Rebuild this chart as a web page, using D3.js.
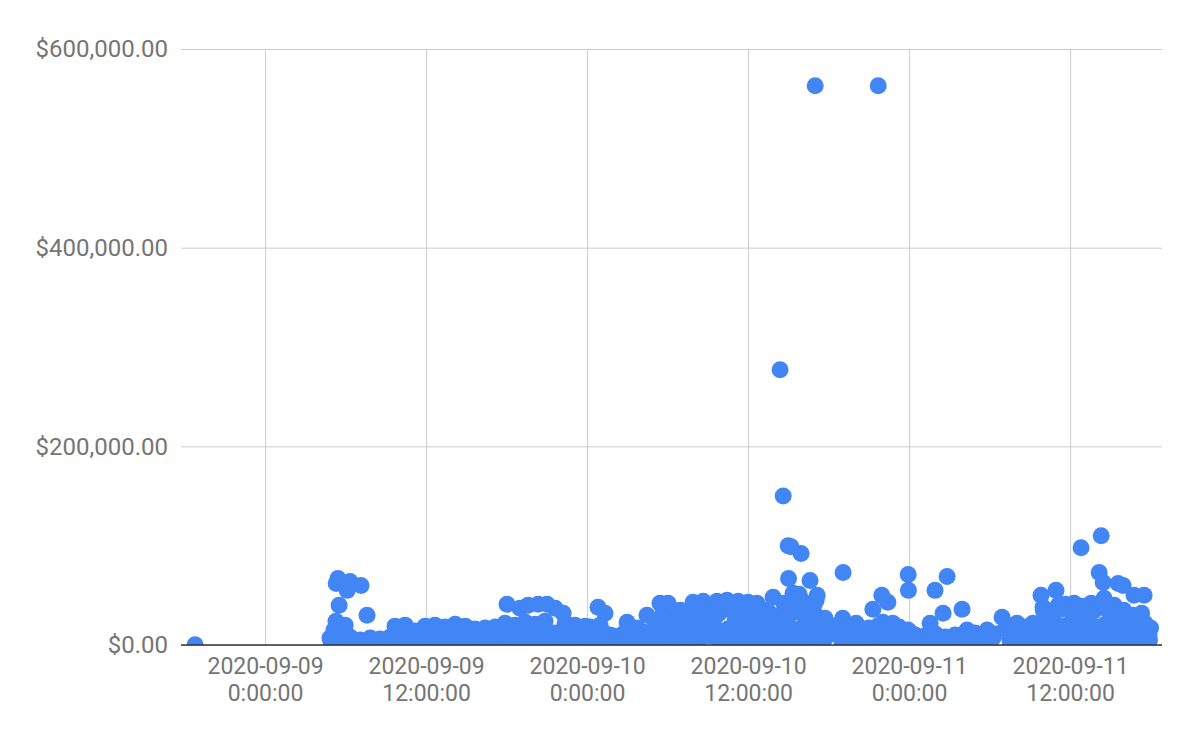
<!DOCTYPE html>
<head>
  <meta charset="utf-8">
  <title>Sales scatter</title>
  <script src="https://cdn.jsdelivr.net/npm/d3@7"></script>
  <style>
    body { margin: 0; background: #fff; }
    text { font-family: Roboto, "Noto Sans", sans-serif; }
  </style>
</head>
<body>
<div id="container"></div>
<script>

  // [time of day, amount] per day
  let sep08 = [["18:47", 300]];

  let sep09 = [
    ["05:18", 62000], ["05:26", 67000], ["06:20", 64000], ["06:07", 55000], ["07:09", 60000],
    ["05:31", 40000], ["07:36", 30000], ["05:17", 24000], ["05:08", 15000], ["05:58", 20000],
    ["05:22", 13000], ["05:20", 4000], ["04:55", 3000],
    ["04:50", 7000], ["05:35", 6000], ["06:20", 8000], ["07:05", 5000], ["07:50", 7000], ["08:34", 6000], ["09:19", 8000],
    ["05:13", 2000], ["05:58", 1500], ["06:42", 3000], ["07:27", 1000], ["08:12", 2500], ["08:57", 1800],
    ["04:58", 5000], ["05:40", 4000], ["06:30", 6000], ["07:15", 3000], ["08:00", 5000], ["08:45", 4000], ["09:30", 6000],
    ["09:41", 19000], ["10:26", 20000], ["11:11", 14000], ["11:56", 19000], ["12:40", 20000], ["13:25", 18000],
    ["14:10", 21000], ["14:55", 19000], ["15:39", 16000], ["16:24", 17000], ["17:09", 18000],
    ["09:50", 12000], ["10:35", 11000], ["11:20", 13000], ["12:05", 12000], ["12:50", 10000], ["13:35", 13000],
    ["14:20", 12000], ["15:05", 11000], ["15:50", 12000], ["16:35", 13000], ["17:20", 12000],
    ["10:04", 5000], ["10:49", 3000], ["11:33", 6000], ["12:18", 4000], ["13:03", 7000], ["13:47", 2000],
    ["14:32", 5000], ["15:17", 6000], ["16:01", 3000], ["16:46", 8000], ["17:31", 4000],
    ["18:02", 41000], ["19:00", 37000], ["19:36", 40000], ["20:21", 41000], ["21:01", 41000], ["21:37", 37000], ["22:13", 32000],
    ["17:53", 22000], ["18:38", 20000], ["19:23", 23000], ["20:07", 21000], ["20:52", 24000], ["21:40", 12000],
    ["22:22", 22000], ["23:06", 20000], ["23:51", 19000],
    ["17:40", 12000], ["18:25", 13000], ["19:10", 11000], ["19:55", 12000], ["20:40", 13000], ["21:25", 10000],
    ["22:10", 12000], ["22:55", 11000], ["23:40", 12000],
    ["18:16", 4000], ["19:02", 6000], ["19:45", 3000], ["20:30", 5000], ["21:14", 7000], ["21:59", 2000], ["22:44", 6000], ["23:29", 4000]
  ];

  let sep10 = [
    ["00:49", 38000], ["01:20", 32000],
    ["00:13", 18000], ["00:58", 20000], ["01:43", 10000], ["02:28", 8000], ["02:59", 23000], ["03:44", 17000], ["03:12", 10000], ["04:28", 30000],
    ["00:25", 12000], ["01:10", 13000], ["01:55", 9000], ["02:40", 11000], ["03:25", 12000], ["04:10", 13000], ["04:55", 12000],
    ["00:36", 4000], ["01:22", 6000], ["02:05", 3000], ["02:50", 5000], ["03:35", 2000], ["04:19", 6000], ["05:04", 4000],
    ["05:26", 42000], ["06:02", 42000], ["06:56", 35000], ["07:54", 43000], ["08:39", 44000], ["09:41", 44000],
    ["10:26", 45000], ["11:16", 44000], ["12:00", 43000], ["12:40", 42000],
    ["05:40", 33000], ["06:25", 35000], ["07:10", 34000], ["08:15", 33000], ["09:05", 36000], ["09:50", 32000],
    ["10:45", 35000], ["11:35", 34000], ["12:20", 33000], ["13:05", 32000], ["13:50", 30000],
    ["05:04", 24000], ["05:49", 26000], ["06:33", 22000], ["07:18", 27000], ["08:03", 20000], ["08:48", 23000], ["09:32", 28000],
    ["10:17", 14000], ["11:02", 25000], ["11:47", 22000], ["12:31", 26000], ["13:16", 27000], ["14:01", 24000],
    ["05:15", 15000], ["06:00", 14000], ["06:45", 16000], ["07:30", 15000], ["08:15", 13000], ["09:00", 15000], ["09:45", 14000],
    ["10:30", 16000], ["11:15", 15000], ["12:00", 14000], ["12:45", 16000], ["13:30", 15000], ["14:15", 14000],
    ["05:28", 7000], ["06:11", 5000], ["06:58", 8000], ["07:40", 4000], ["08:25", 6000], ["09:10", 9000], ["09:55", 3000],
    ["10:40", 7000], ["11:24", 5000], ["12:09", 8000], ["12:53", 6000], ["13:38", 4000], ["14:23", 7000],
    ["14:23", 277000], ["14:37", 150000], ["14:59", 100000], ["15:12", 99000], ["15:57", 92000], ["17:00", 563000], ["21:42", 563000],
    ["15:01", 67000], ["16:37", 65000], ["19:05", 73000], ["17:09", 50000], ["17:04", 45000], ["13:52", 48000], ["15:21", 52000],
    ["15:53", 38000], ["16:40", 38000], ["13:25", 35000], ["15:48", 51000],
    ["14:40", 42000], ["15:25", 40000], ["16:10", 43000], ["16:55", 41000],
    ["14:46", 30000], ["15:30", 33000], ["16:15", 28000], ["16:59", 31000], ["17:44", 27000],
    ["15:08", 18000], ["15:55", 16000], ["16:35", 19000], ["17:22", 17000], ["18:07", 15000],
    ["14:55", 11000], ["15:40", 10000], ["16:25", 12000], ["17:10", 11000], ["17:55", 10000],
    ["14:48", 4000], ["15:32", 6000], ["16:17", 3000], ["17:01", 5000], ["17:46", 7000],
    ["19:03", 27000], ["20:03", 22000], ["21:18", 36000], ["21:58", 50000], ["22:25", 43000], ["22:03", 23000], ["22:47", 22000],
    ["23:56", 71000], ["23:57", 55000], ["23:55", 15000],
    ["18:40", 20000], ["19:30", 19000], ["20:15", 18000], ["21:00", 17000], ["21:45", 20000], ["22:30", 19000], ["23:15", 18000],
    ["18:29", 15000], ["19:14", 12000], ["19:58", 14000], ["20:43", 10000], ["21:28", 13000], ["22:13", 16000], ["22:58", 11000], ["23:42", 12000],
    ["18:50", 9000], ["19:35", 8000], ["20:20", 9000], ["21:05", 8000], ["21:50", 9000], ["22:35", 8000], ["23:20", 9000],
    ["19:00", 3000], ["19:45", 5000], ["20:30", 2000], ["21:14", 4000], ["22:00", 6000], ["22:44", 3000], ["23:28", 4000]
  ];

  let sep11 = [
    ["01:56", 55000], ["02:50", 69000], ["03:57", 36000], ["02:32", 32000], ["01:34", 22000], ["00:04", 13000],
    ["00:27", 10000], ["01:11", 9000], ["01:58", 11000], ["02:41", 8000], ["03:26", 10000], ["04:10", 9000],
    ["04:55", 12000], ["05:40", 7000], ["06:25", 11000],
    ["00:15", 7000], ["01:00", 6000], ["01:45", 7000], ["02:30", 6000], ["03:15", 7000], ["04:00", 6000],
    ["04:45", 7000], ["05:30", 6000], ["06:15", 7000],
    ["04:19", 15000], ["05:49", 15000], ["06:56", 28000], ["08:03", 22000], ["09:14", 22000], ["10:17", 25000], ["12:13", 25000],
    ["00:49", 3000], ["01:36", 2000], ["02:19", 4000], ["03:03", 1000], ["03:48", 3000], ["04:33", 2000], ["05:18", 4000], ["06:02", 3000],
    ["09:50", 50000], ["10:57", 55000], ["09:59", 38000], ["11:07", 40000], ["12:18", 42000], ["13:34", 42000],
    ["12:49", 98000], ["14:19", 110000], ["14:10", 73000], ["14:28", 63000], ["15:35", 62000], ["15:57", 60000],
    ["16:46", 50000], ["17:31", 50000], ["14:32", 47000], ["15:17", 40000], ["15:48", 35000], ["18:00", 17000],
    ["16:48", 25000], ["13:21", 28000], ["17:49", 7000], ["11:38", 41000], ["12:53", 39000],
    ["10:00", 35000], ["10:45", 34000], ["11:30", 36000], ["12:15", 33000], ["13:00", 35000], ["13:45", 34000],
    ["14:45", 36000], ["15:10", 33000], ["16:00", 35000], ["16:40", 30000], ["17:20", 32000],
    ["07:09", 16000], ["07:54", 20000], ["08:38", 18000], ["09:23", 21000], ["10:08", 17000], ["10:53", 22000],
    ["11:37", 19000], ["12:22", 20000], ["13:07", 23000], ["13:52", 18000], ["14:37", 21000], ["15:21", 24000],
    ["16:06", 20000], ["16:50", 17000], ["17:35", 22000], ["17:53", 10000],
    ["07:20", 12000], ["08:05", 11000], ["08:50", 12000], ["09:35", 13000], ["10:20", 12000], ["11:05", 11000],
    ["11:50", 12000], ["12:35", 13000], ["13:20", 12000], ["14:05", 11000], ["14:50", 12000], ["15:35", 13000],
    ["16:20", 12000], ["17:05", 11000], ["17:45", 12000],
    ["07:32", 4000], ["08:16", 6000], ["09:01", 3000], ["09:46", 5000], ["10:31", 7000], ["11:15", 2000], ["12:00", 6000],
    ["12:44", 4000], ["13:29", 5000], ["14:14", 3000], ["14:59", 6000], ["15:44", 4000], ["16:28", 7000], ["17:13", 3000], ["17:55", 5000]
  ];

  let xTicks = ["2020-09-09 00:00", "2020-09-09 12:00", "2020-09-10 00:00",
                "2020-09-10 12:00", "2020-09-11 00:00", "2020-09-11 12:00"];
  let yTicks = [0, 200000, 400000, 600000];
  let xRange = ["2020-09-08 17:44", "2020-09-11 18:51"];

  let svg_width = 1200;
  let svg_height = 742;
  let plot = { left: 181, right: 1162, top: 49, bottom: 645 };

  let parseTime = d3.timeParse("%Y-%m-%d %H:%M");

  let points = [];
  [["2020-09-08", sep08], ["2020-09-09", sep09], ["2020-09-10", sep10], ["2020-09-11", sep11]].forEach(function (day) {
    day[1].forEach(function (d) {
      points.push({ t: parseTime(day[0] + " " + d[0]), v: d[1] });
    });
  });

  let xScale = d3.scaleTime()
          .domain(xRange.map(parseTime))
          .range([plot.left, plot.right]);

  let yScale = d3.scaleLinear()
          .domain([0, 600000])
          .range([plot.bottom, plot.top]);

  let svg = d3.select("#container").append("svg")
          .attr("width", svg_width)
          .attr("height", svg_height);

  svg.append("defs").append("clipPath")
          .attr("id", "plot-clip")
          .append("rect")
          .attr("x", 0)
          .attr("y", 0)
          .attr("width", svg_width)
          .attr("height", plot.bottom);

  // vertical gridlines + two-line date labels
  let xAxis = svg.append("g")
          .attr("transform", "translate(0," + plot.bottom + ")")
          .call(d3.axisBottom(xScale)
                  .tickValues(xTicks.map(parseTime))
                  .tickSize(-(plot.bottom - plot.top))
                  .tickFormat(d3.timeFormat("%Y-%m-%d")));

  xAxis.select(".domain").remove();
  xAxis.selectAll(".tick line").attr("stroke", "#cccccc");

  let fmtHour = d3.timeFormat("%-H:%M:%S");

  xAxis.selectAll(".tick text")
          .attr("y", 28.5)
          .attr("dy", null)
          .attr("fill", "#757575")
          .style("font-size", "23px");

  xAxis.selectAll(".tick").append("text")
          .attr("y", 56)
          .attr("fill", "#757575")
          .style("font-size", "23px")
          .text(function (d) { return fmtHour(d); });

  // horizontal gridlines + value labels
  let yAxis = svg.append("g")
          .attr("transform", "translate(" + plot.left + ",0)")
          .call(d3.axisLeft(yScale)
                  .tickValues(yTicks)
                  .tickSize(-(plot.right - plot.left))
                  .tickPadding(13)
                  .tickFormat(d3.format("$,.2f")));

  yAxis.select(".domain").remove();
  yAxis.selectAll(".tick line").attr("stroke", "#cccccc");
  yAxis.selectAll(".tick text")
          .attr("fill", "#757575")
          .style("font-size", "24px");

  svg.append("g")
          .attr("clip-path", "url(#plot-clip)")
          .selectAll("circle")
          .data(points)
          .enter()
          .append("circle")
          .attr("cx", function (d) { return xScale(d.t); })
          .attr("cy", function (d) { return yScale(d.v); })
          .attr("r", 8.5)
          .attr("fill", "#4285f4");

  // baseline
  svg.append("line")
          .attr("x1", plot.left)
          .attr("x2", plot.right)
          .attr("y1", yScale(0))
          .attr("y2", yScale(0))
          .attr("stroke", "#333333")
          .attr("stroke-width", 1.5);

</script>
</body>
